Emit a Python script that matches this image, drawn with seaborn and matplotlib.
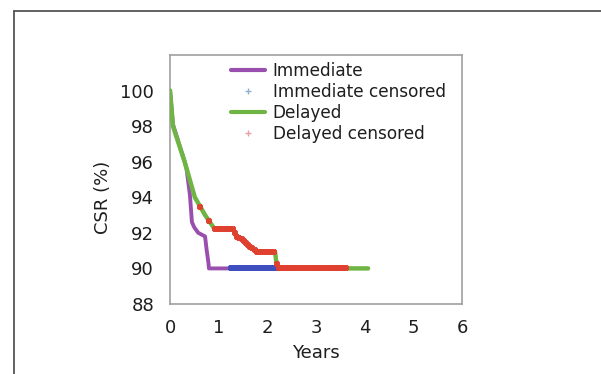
import numpy as np
import pandas as pd
import matplotlib
matplotlib.use("Agg")
import matplotlib.pyplot as plt
from matplotlib.lines import Line2D
from matplotlib.ticker import MultipleLocator
import seaborn as sns

# Cumulative survival rate (CSR, %) over follow-up years
immediate_years = [0, 0.06, 0.30, 0.34, 0.41, 0.45, 0.50, 0.58, 0.65, 0.72, 0.75, 0.79, 0.80, 2.20]
immediate_csr = [100, 98.1, 96.0, 95.6, 94.1, 92.6, 92.3, 92.0, 91.9, 91.8, 91.1, 90.3, 90.0, 90.0]

delayed_years = [0, 0.06, 0.30, 0.51, 0.72, 0.92, 1.30, 1.36, 1.45, 1.60, 1.75, 1.80, 2.16, 2.20, 4.07]
delayed_csr = [100, 98.0, 96.0, 94.0, 93.0, 92.2, 92.2, 91.8, 91.7, 91.3, 91.0, 90.9, 90.9, 90.0, 90.0]

# Censoring times
immediate_censored = [1.25, 1.29, 1.34, 1.38, 1.43, 1.47, 1.52, 1.56, 1.61, 1.65, 1.70,
                      1.74, 1.79, 1.83, 1.88, 1.92, 1.97, 2.01, 2.06, 2.10, 2.15, 2.19]
delayed_censored = [0.62, 0.80, 0.93, 0.97, 1.02, 1.06, 1.11, 1.15, 1.20, 1.24, 1.29,
                    1.33, 1.38, 1.42, 1.47, 1.51, 1.56, 1.60, 1.65, 1.69, 1.74, 1.78,
                    1.83, 1.87, 1.92, 1.96, 2.01, 2.05, 2.10, 2.14, 2.19, 2.23, 2.28,
                    2.32, 2.37, 2.41, 2.46, 2.50, 2.55, 2.59, 2.64, 2.68, 2.73, 2.77,
                    2.82, 2.86, 2.91, 2.95, 3.00, 3.04, 3.09, 3.13, 3.18, 3.22, 3.27,
                    3.31, 3.36, 3.40, 3.45, 3.49, 3.54, 3.58, 3.62]

x_ticks = [0, 1, 2, 3, 4, 5, 6]
y_ticks = [88, 90, 92, 94, 96, 98, 100]

PURPLE = "#9a4fae"
GREEN = "#6fb544"
BLUE = "#3f4fbf"
RED = "#e0402f"
TEXT = "#1e1e1e"

sns.set_theme(style="white")
plt.rcParams["font.family"] = ["DejaVu Sans"]

fig = plt.figure(figsize=(6.01, 3.74), dpi=100)
ax = fig.add_axes([0.2829, 0.1872, 0.4858, 0.6658])

imm = pd.DataFrame({"Years": immediate_years, "CSR": immediate_csr})
dly = pd.DataFrame({"Years": delayed_years, "CSR": delayed_csr})


def csr_at(times, years, csr):
    # value of the piecewise curve at the censoring times
    return np.interp(times, years, csr)


imm_c = pd.DataFrame({"Years": immediate_censored,
                      "CSR": csr_at(immediate_censored, immediate_years, immediate_csr)})
dly_c = pd.DataFrame({"Years": delayed_censored,
                      "CSR": csr_at(delayed_censored, delayed_years, delayed_csr)})

sns.lineplot(data=imm, x="Years", y="CSR", ax=ax, color=PURPLE, lw=2.8,
             sort=False, estimator=None, zorder=2)
sns.lineplot(data=dly, x="Years", y="CSR", ax=ax, color=GREEN, lw=3.2,
             sort=False, estimator=None, zorder=3)
ax.plot(imm_c["Years"], imm_c["CSR"], ls="none", marker="+", ms=5, mew=3,
        color=BLUE, zorder=4)
ax.plot(dly_c["Years"], dly_c["CSR"], ls="none", marker="+", ms=5, mew=3,
        color=RED, zorder=5, alpha=0.95)

ax.set_xlim(0, 6)
ax.set_ylim(88, 102)
ax.set_xticks(x_ticks)
ax.set_yticks(y_ticks)
ax.xaxis.set_minor_locator(MultipleLocator(1 / 6))
ax.tick_params(axis="both", which="both", direction="inout", colors="#808080",
               labelcolor=TEXT, labelsize=13, width=1)
ax.tick_params(axis="both", which="major", length=5)
ax.tick_params(axis="x", which="minor", length=4)
ax.tick_params(axis="y", pad=9)
ax.tick_params(axis="x", pad=8)
for s in ax.spines.values():
    s.set_color("#a0a0a0")
    s.set_linewidth(1.2)
ax.set_xlabel("Years", fontsize=13, color=TEXT)
ax.set_ylabel("CSR (%)", fontsize=13, color=TEXT)
ax.xaxis.set_label_coords(0.5, -0.16)
ax.yaxis.set_label_coords(-0.20, 0.43)

handles = [
    Line2D([], [], color=PURPLE, lw=3),
    Line2D([], [], ls="none", marker="+", ms=5, mew=1, color="#8fb0cf"),
    Line2D([], [], color=GREEN, lw=3),
    Line2D([], [], ls="none", marker="+", ms=5, mew=1, color="#e8a0a8"),
]
labels = ["Immediate", "Immediate censored", "Delayed", "Delayed censored"]
ax.legend(handles, labels, loc="upper left", bbox_to_anchor=(0.175, 1.013),
          frameon=False, fontsize=12.2, handlelength=2.0, handletextpad=0.45,
          labelspacing=0.18, borderpad=0.1, labelcolor=TEXT)

# page frame around the figure
fig.add_artist(Line2D([13.5 / 601, 13.5 / 601], [0, 1 - 11 / 374],
                      transform=fig.transFigure, color="#555555", lw=1.3))
fig.add_artist(Line2D([13.5 / 601, 1], [1 - 11 / 374, 1 - 11 / 374],
                      transform=fig.transFigure, color="#555555", lw=1.3))

fig.savefig("out.png", dpi=100)
